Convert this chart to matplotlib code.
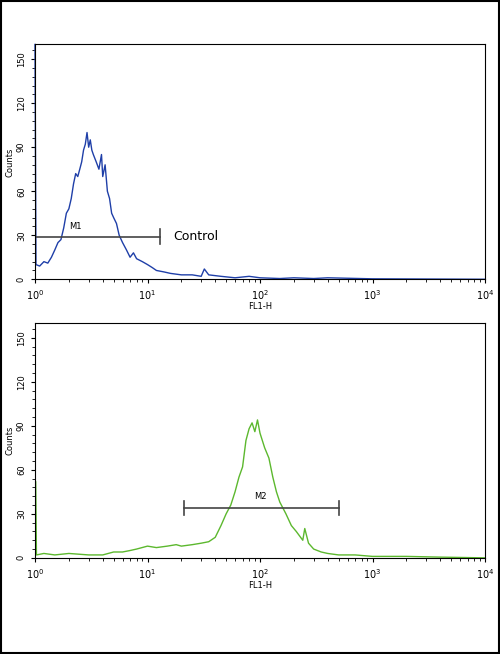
import matplotlib
matplotlib.use("Agg")
import matplotlib.pyplot as plt
from matplotlib.patches import Rectangle
from matplotlib.ticker import LogLocator, MultipleLocator, NullFormatter

top_x = [1.0,1.01,1.02,1.1,1.2,1.3,1.4,1.5,1.6,1.7,1.8,1.9,2.0,2.1,2.2,2.3,2.4,2.5,2.6,2.7,2.8,2.9,3.0,3.1,3.2,3.3,3.5,3.7,3.9,4.0,4.2,4.4,4.6,4.8,5.0,5.3,5.6,6.0,6.5,7,7.5,8,9,10,11,12,14,16,20,25,30,32,35,45,60,80,100,150,200,300,400,1000,10000]
top_y = [160,85,10,9,12,11,15,20,25,27,35,45,48,55,65,72,70,75,80,88,92,100,90,95,88,85,80,75,85,70,78,60,55,45,42,38,30,25,20,15,18,14,12,10,8,6,5,4,3,3,2,7,3,2,1,2,1,0.5,1,0.5,1,0.3,0]
bot_x = [1.0,1.015,1.03,1.2,1.5,2,3,4,5,6,7,8,10,12,15,18,20,25,30,35,40,45,50,55,60,65,70,75,80,85,90,95,100,110,120,130,140,150,170,190,210,240,250,270,300,350,400,500,700,1000,2000,4000,10000]
bot_y = [0,52,2,3,2,3,2,2,4,4,5,6,8,7,8,9,8,9,10,11,14,22,30,36,45,55,62,80,88,92,86,94,85,75,68,55,45,38,30,22,18,12,20,10,6,4,3,2,2,1,1,0.5,0]

fig = plt.figure(figsize=(5, 6.54), dpi=100)
fig.patches.append(Rectangle((0.002, 0.002), 0.996, 0.996, transform=fig.transFigure,
                             fill=False, edgecolor='black', linewidth=1.5))

def setup(ax):
    ax.set_xscale('log')
    ax.set_xlim(1, 10000)
    ax.set_ylim(0, 160)
    ax.set_yticks([0, 30, 60, 90, 120, 150])
    ax.yaxis.set_minor_locator(MultipleLocator(6))
    ax.xaxis.set_minor_locator(LogLocator(base=10, subs=range(2, 10)))
    ax.xaxis.set_minor_formatter(NullFormatter())
    ax.set_xticks([1, 10, 100, 1000, 10000])
    ax.set_xticklabels([r'$10^0$', r'$10^1$', r'$10^2$', r'$10^3$', r'$10^4$'])
    ax.tick_params(axis='y', labelrotation=90, labelsize=6, length=3)
    ax.tick_params(axis='x', labelsize=7, length=3)
    ax.tick_params(which='minor', length=2)
    for t in ax.get_yticklabels():
        t.set_va('center')
    ax.set_xlabel('FL1-H', fontsize=6, labelpad=0)
    ax.set_ylabel('Counts', fontsize=6, labelpad=2)

ax1 = fig.add_axes([0.07, 0.573, 0.9, 0.359])
ax2 = fig.add_axes([0.07, 0.147, 0.9, 0.359])
setup(ax1); setup(ax2)

ax1.plot(top_x, top_y, color='#1f3fa8', lw=1, clip_on=False)
ax1.plot([13, 13], [24, 34], color='#444444', lw=1.2)
ax1.plot([1, 13], [29, 29], color='#444444', lw=1.2)
ax1.text(2.3, 34, 'M1', fontsize=6, ha='center')
ax1.text(17, 29, 'Control', fontsize=9, va='center')

ax2.plot(bot_x, bot_y, color='#5cb82e', lw=1)
ax2.plot([21, 500], [34, 34], color='#444444', lw=1.2)
ax2.plot([21, 21], [29, 39], color='#444444', lw=1.2)
ax2.plot([500, 500], [29, 39], color='#444444', lw=1.2)
ax2.text(100, 40, 'M2', fontsize=6, ha='center')

fig.savefig('out.png', dpi=100)
